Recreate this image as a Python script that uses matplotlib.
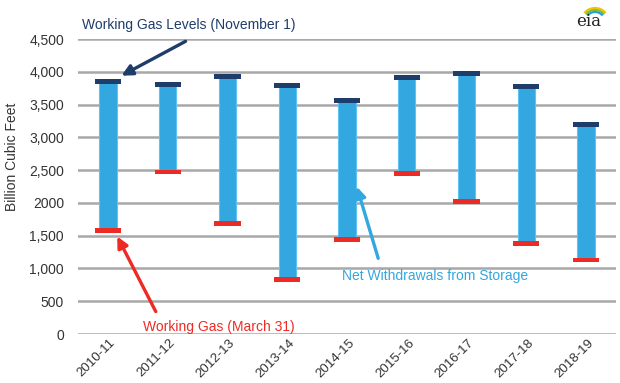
import numpy as np
import matplotlib
matplotlib.use("Agg")
import matplotlib.pyplot as plt
import matplotlib.transforms as mtransforms
from matplotlib.patches import Arc

plt.rcParams['font.family'] = ['Liberation Sans', 'DejaVu Sans']

seasons = ["2010-11", "2011-12", "2012-13", "2013-14", "2014-15",
           "2015-16", "2016-17", "2017-18", "2018-19"]
nov1 = [3850, 3810, 3925, 3795, 3560, 3910, 3970, 3775, 3195]
mar31 = [1580, 2470, 1690, 830, 1440, 2450, 2020, 1385, 1130]
yticks = [0, 500, 1000, 1500, 2000, 2500, 3000, 3500, 4000, 4500]
ytick_labels = ["0", "500", "1,000", "1,500", "2000", "2,500", "3,000",
                "3,500", "4,000", "4,500"]

blue = "#33a7df"
navy = "#1f3d6b"
red = "#ee2a24"
gray_txt = "#333333"

fig = plt.figure(figsize=(6.2, 3.83), dpi=100)
ax = fig.add_axes([0.1258, 0.1279, 0.8677, 0.7702])

x = np.arange(len(seasons))
top = np.array(nov1)
bot = np.array(mar31)

# withdrawals bar
ax.bar(x, top - bot, bottom=bot, width=0.29, color=blue,
       edgecolor="#5cc3f2", linewidth=0.8, zorder=3)
# level markers
mh = 70
ax.bar(x, mh, bottom=top - mh / 2, width=0.44, color=navy, zorder=4)
ax.bar(x, mh, bottom=bot - mh / 2, width=0.44, color=red, zorder=4)

ax.set_xlim(-0.5, len(seasons) - 0.5)
ax.set_ylim(0, 4500)
ax.set_yticks(yticks)
ax.set_yticklabels(ytick_labels, fontsize=10, color=gray_txt)
ax.yaxis.grid(True, color="#a8a8a8", linewidth=1.8, zorder=0)
ax.set_axisbelow(True)
for s in ax.spines.values():
    s.set_visible(False)
ax.tick_params(axis="y", length=0, pad=10)
ax.tick_params(axis="x", length=0, pad=2)

ax.set_xticks(x)
ax.set_xticklabels(seasons, rotation=45, ha="right", fontsize=9.5, color=gray_txt)
offset = mtransforms.ScaledTranslation(0.1, 0, fig.dpi_scale_trans)
for lab in ax.get_xticklabels():
    lab.set_transform(lab.get_transform() + offset)

fig.text(0.02, 0.59, "Billion Cubic Feet", rotation=90, fontsize=10,
         color=gray_txt, ha="center", va="center")

# annotations (pixel positions in figure)
def fxy(px, py):
    return (px / 620, 1 - py / 383)

ax.annotate("", xy=fxy(119, 77), xycoords="figure fraction",
            xytext=fxy(188, 40), textcoords="figure fraction",
            arrowprops=dict(arrowstyle="-|>", color=navy, lw=2.4,
                            mutation_scale=16))
fig.text(*fxy(82, 25), "Working Gas Levels (November 1)", color=navy,
         fontsize=10, ha="left", va="center")

ax.annotate("", xy=fxy(116, 234), xycoords="figure fraction",
            xytext=fxy(157, 314), textcoords="figure fraction",
            arrowprops=dict(arrowstyle="-|>", color=red, lw=2.4,
                            mutation_scale=16))
fig.text(*fxy(143, 327), "Working Gas (March 31)", color=red,
         fontsize=10, ha="left", va="center")

ax.annotate("", xy=fxy(356, 184), xycoords="figure fraction",
            xytext=fxy(379, 261), textcoords="figure fraction",
            arrowprops=dict(arrowstyle="-|>", color=blue, lw=2.4,
                            mutation_scale=16))
fig.text(*fxy(342, 276), "Net Withdrawals from Storage", color=blue,
         fontsize=10, ha="left", va="center")

# eia logo
fig.text(*fxy(589, 21), "eia", family="DejaVu Serif", fontsize=12,
         color="#222222", ha="center", va="center")
lax = fig.add_axes([578 / 620, 1 - 18 / 383, 30 / 620, 12 / 383])
lax.set_xlim(0, 30)
lax.set_ylim(0, 12)
lax.axis("off")
for r, c in [(14, "#f5c400"), (12, "#7cc242"), (10, "#2a9fd8")]:
    lax.add_patch(Arc((17, -4), 2 * r, 2 * r, theta1=40, theta2=140,
                      color=c, lw=1.6))

fig.savefig("out.png", dpi=100)
